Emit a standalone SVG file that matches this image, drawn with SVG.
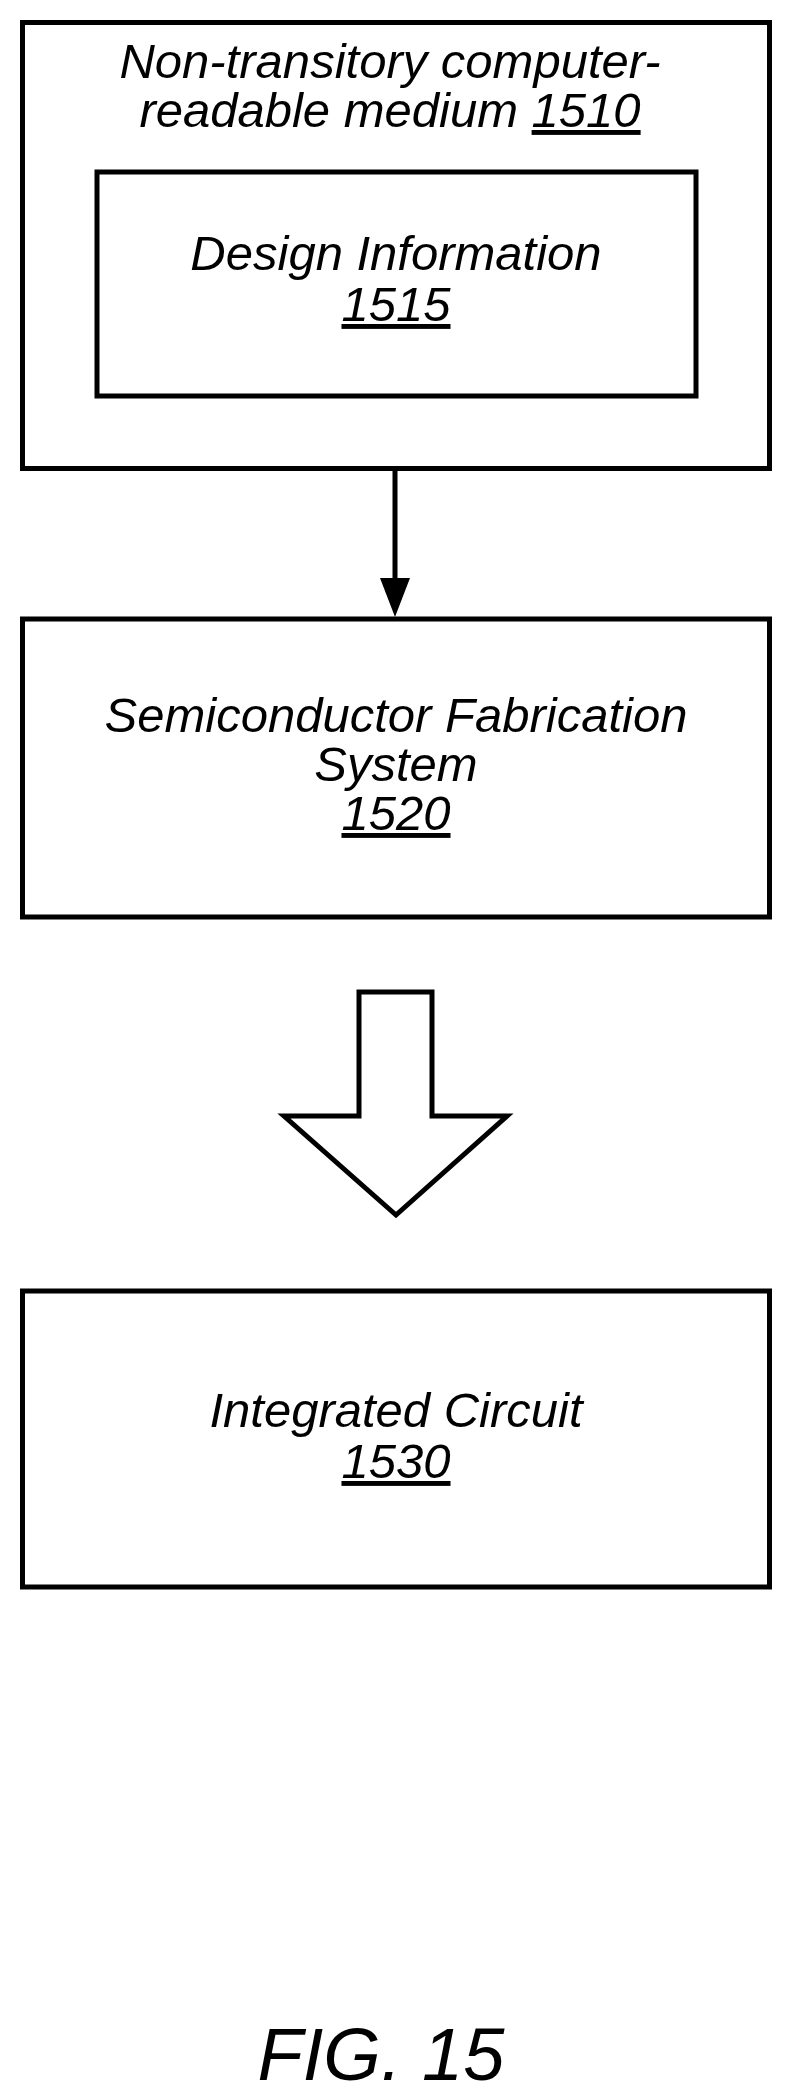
<svg xmlns="http://www.w3.org/2000/svg" width="796" height="2092" viewBox="0 0 796 2092">
<style>
.b{fill:none;stroke:#000;stroke-width:5}
.t{font-family:"Liberation Sans",Arial,sans-serif;font-style:italic;font-size:49px;text-anchor:middle;fill:#000}
.u{text-decoration:underline}
</style>
<rect width="796" height="2092" fill="#fff"/>
<g id="n1510"><rect class="b" x="22.5" y="22.5" width="747" height="446"/>
<text class="t" x="390" y="78">Non-transitory computer-</text>
<text class="t" x="390" y="127">readable medium <tspan class="u">1510</tspan></text></g>
<g id="n1515"><rect class="b" x="97" y="172" width="599" height="224"/>
<text class="t" x="396" y="270">Design Information</text>
<text class="t u" x="396" y="321">1515</text></g>
<g id="n1520"><rect class="b" x="22.5" y="619" width="747" height="298"/>
<text class="t" x="396" y="732">Semiconductor Fabrication</text>
<text class="t" x="396" y="781">System</text>
<text class="t u" x="396" y="830">1520</text></g>
<g id="n1530"><rect class="b" x="22.5" y="1291" width="747" height="296"/>
<text class="t" x="396" y="1427">Integrated Circuit</text>
<text class="t u" x="396" y="1478">1530</text></g>
<g id="connectors">
<line x1="395" y1="471" x2="395" y2="586" stroke="#000" stroke-width="5"/>
<path d="M380,578L410,578L395,617Z"/>
<path class="b" stroke-width="4" d="M359,992L432,992L432,1116L507,1116L396,1215L284,1116L359,1116Z"/>
</g>
<text x="381" y="2080" style="font-family:'Liberation Sans',Arial,sans-serif;font-style:italic;font-size:74px;text-anchor:middle">FIG. 15</text>
</svg>
